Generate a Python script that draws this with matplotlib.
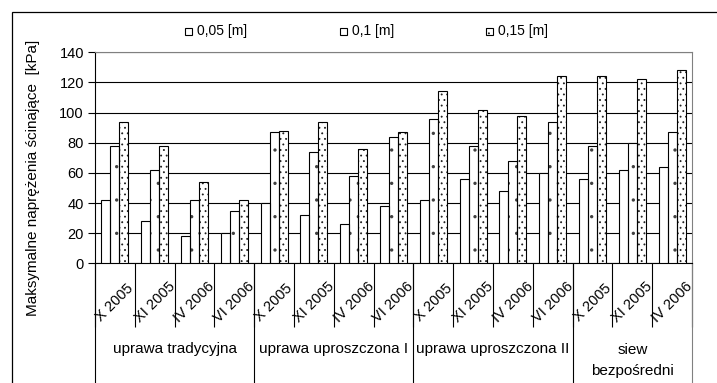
import matplotlib
matplotlib.use('Agg')
import matplotlib.pyplot as plt
from matplotlib.patches import Rectangle
import numpy as np

plt.rcParams['font.family'] = ['Liberation Sans', 'DejaVu Sans']

# terminy pomiarow w kolejnych wariantach uprawy
months = ['X 2005', 'XI 2005', 'IV 2006', 'VI 2006',
          'X 2005', 'XI 2005', 'IV 2006', 'VI 2006',
          'X 2005', 'XI 2005', 'IV 2006', 'VI 2006',
          'X 2005', 'XI 2005', 'IV 2006']
groups = ['uprawa tradycyjna', 'uprawa uproszczona I', 'uprawa uproszczona II', 'siew\nbezpośredni']
group_sizes = [4, 4, 4, 3]
depths = ['0,05 [m]', '0,1 [m]', '0,15 [m]']

# maksymalne naprezenia scinajace [kPa] dla glebokosci
d005 = [42, 28, 18, 20, 40, 32, 26, 38, 42, 56, 48, 60, 56, 62, 64]
d010 = [78, 62, 42, 35, 87, 74, 58, 84, 96, 78, 68, 94, 78, 80, 87]
d015 = [94, 78, 54, 42, 88, 94, 76, 87, 114, 102, 98, 124, 124, 122, 128]

# wzor wypelnienia: (hatch, kolor kropek, grubosc linii kropek)
fills = [('', 'black', 0.0), ('.', '#404040', 0.0), ('...', '#202020', 0.6)]

W, H = 717, 383
fig = plt.figure(figsize=(W / 100, H / 100), dpi=100)
ax = fig.add_axes([95 / W, 1 - 263.3 / H, (692 - 95) / W, (263.3 - 52.3) / H])

x = np.arange(len(months))
bw = 0.226
for i, (vals, (h, hc, hlw)) in enumerate(zip([d005, d010, d015], fills)):
    with plt.rc_context({'hatch.linewidth': hlw}):
        ax.bar(x + (i - 1) * bw, vals, bw, color='white', edgecolor=hc,
               linewidth=0, hatch=h, zorder=3)
    ax.bar(x + (i - 1) * bw, vals, bw, fill=False, edgecolor='black',
           linewidth=0.8, zorder=4)

ax.set_xlim(-0.5, len(months) - 0.5)
ax.set_ylim(0, 140)
ax.set_yticks(range(0, 141, 20))
ax.yaxis.grid(True, color='black', linewidth=0.8, zorder=0)
ax.tick_params(axis='y', length=5, width=0.8, pad=3, labelsize=10.5)

ax.set_xticks(x, months, rotation=45, ha='center', va='center', fontsize=10.5)
ax.tick_params(axis='x', which='major', length=0, pad=28)
ax.set_xticks(np.arange(-0.5, len(months)), minor=True)
ax.tick_params(axis='x', which='minor', length=46, width=0.8)

for s in ['top', 'right']:
    ax.spines[s].set_color('#808080')
for s in ['left', 'bottom']:
    ax.spines[s].set_linewidth(0.8)

# linie oddzielajace warianty uprawy
bounds = np.cumsum([0] + group_sizes) - 0.5
sep_colors = ['black'] * (len(bounds) - 1) + ['#808080']
ax.vlines(bounds, -0.7, 0, transform=ax.get_xaxis_transform(), clip_on=False,
          colors=sep_colors, linewidth=0.8)

centers = (bounds[:-1] + bounds[1:]) / 2
for c, g in zip(centers, groups):
    y_px = 349 + (g.count('\n')) * 11.5
    ax.text(c, (263.3 - y_px) / 211, g, transform=ax.get_xaxis_transform(),
            ha='center', va='center', fontsize=11, linespacing=1.55)

fig.text(33 / W, 1 - 178 / H, 'Maksymalne naprężenia ścinające  [kPa]',
         rotation=90, ha='center', va='center', fontsize=11)

# legenda
leg_x = [185, 340, 486]
for lx, lab, (h, hc, hlw) in zip(leg_x, depths, fills):
    with plt.rc_context({'hatch.linewidth': hlw}):
        fig.add_artist(Rectangle((lx / W, 1 - 35 / H), 7 / W, 7 / H, facecolor='white',
                                 edgecolor=hc, linewidth=0, hatch=h if h != '.' else '',
                                 transform=fig.transFigure))
    fig.add_artist(Rectangle((lx / W, 1 - 35 / H), 7 / W, 7 / H, fill=False,
                             edgecolor='black', linewidth=0.8, transform=fig.transFigure))
    fig.text((lx + 12) / W, 1 - 31.5 / H, lab, ha='left', va='center', fontsize=10)

# ramka wykresu
fig.add_artist(Rectangle((12 / W, -0.1), 1.0, 1 - 12 / H + 0.1, fill=False,
                         edgecolor='black', linewidth=0.9, transform=fig.transFigure))

fig.savefig('out.png', dpi=100)
